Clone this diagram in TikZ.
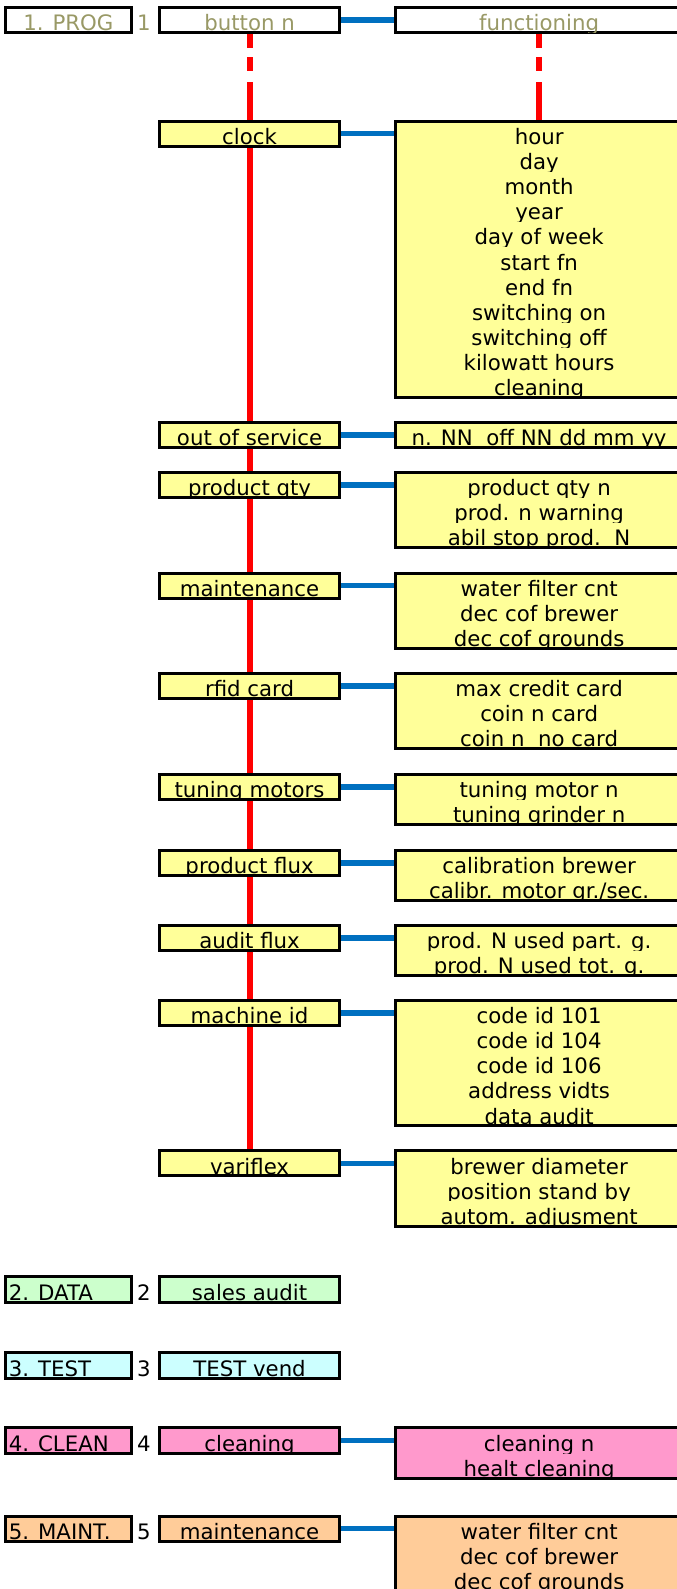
\documentclass[tikz,border=0pt]{standalone}
\usepackage{fontspec}
\setmainfont{DejaVu Sans}
\usetikzlibrary{calc,backgrounds}
\definecolor{mnyel}{RGB}{255,255,153}
\definecolor{mngrn}{RGB}{204,255,204}
\definecolor{mncyan}{RGB}{204,255,255}
\definecolor{mnpink}{RGB}{255,153,204}
\definecolor{mnorg}{RGB}{255,204,153}
\definecolor{mnolive}{RGB}{153,153,102}
\definecolor{mnblue}{RGB}{0,112,192}
\definecolor{mnred}{RGB}{255,0,0}
\newcommand\rowh{24.8}
% one clipped line of text per row of a box
\newcommand\celltext[4][]{%
  \foreach \txtline [count=\k] in {#4}{%
    \begin{scope}
      \clip ($(#2.north west)+(0,\k*\rowh-\rowh)$) rectangle ($(#2.north east)+(0,\k*\rowh)$);
      \node[txt,#1] (#2-\k) at ($(#2.#3)+(0,\k*\rowh-1.8)$) {\txtline};
    \end{scope}}}
\tikzset{
  cell/.style={
    draw=black, line width=3pt, rectangle, inner sep=0pt, outer sep=0pt,
    anchor=north west, minimum height=\rowh pt
  },
  rows/.style={minimum height={#1*\rowh*1pt}},
  catbox/.style={cell, minimum width=124pt},
  keybox/.style={cell, minimum width=177.5pt},
  detbox/.style={cell, minimum width=284pt},
  yel/.style={fill=mnyel},
  grn/.style={fill=mngrn},
  cyn/.style={fill=mncyan},
  pnk/.style={fill=mnpink},
  org/.style={fill=mnorg},
  txt/.style={font=\fontsize{21}{25}\selectfont, inner sep=0pt, anchor=base},
  lnk/.style={draw=mnblue, line width=5.5pt},
  thread/.style={draw=mnred, line width=6pt},
  dthread/.style={thread, dash pattern=on 15pt off 9pt on 14pt off 11pt on 60pt}
}
\begin{document}
\begin{tikzpicture}[x=1pt, y=-1pt]
  \useasboundingbox (0,0) rectangle (668,1568);
  % 1. PROG
  \node[catbox, fill=white] (prog) at (5.5,7.5) {};
  \node[txt, text=mnolive] (num1) at (142,30.5) {1};
  \node[keybox, fill=white] (button) at (157.5,7.5) {};
  \node[detbox, fill=white] (func) at ([xshift=55pt]button.north east) {};
  \node[keybox, yel] (clock) at (157.5,119.5) {};
  \node[detbox, yel, rows=11] (clockd) at ([xshift=55pt]clock.north east) {};
  \node[keybox, yel] (oos) at (157.5,417) {};
  \node[detbox, yel] (oosd) at ([xshift=55pt]oos.north east) {};
  \node[keybox, yel] (pqty) at (157.5,466) {};
  \node[detbox, yel, rows=3] (pqtyd) at ([xshift=55pt]pqty.north east) {};
  \node[keybox, yel] (maint) at (157.5,565.5) {};
  \node[detbox, yel, rows=3] (maintd) at ([xshift=55pt]maint.north east) {};
  \node[keybox, yel] (rfid) at (157.5,664.5) {};
  \node[detbox, yel, rows=3] (rfidd) at ([xshift=55pt]rfid.north east) {};
  \node[keybox, yel] (tune) at (157.5,764) {};
  \node[detbox, yel, rows=2] (tuned) at ([xshift=55pt]tune.north east) {};
  \node[keybox, yel] (pflux) at (157.5,839) {};
  \node[detbox, yel, rows=2] (pfluxd) at ([xshift=55pt]pflux.north east) {};
  \node[keybox, yel] (aflux) at (157.5,913) {};
  \node[detbox, yel, rows=2] (afluxd) at ([xshift=55pt]aflux.north east) {};
  \node[keybox, yel] (mid) at (157.5,987) {};
  \node[detbox, yel, rows=5] (midd) at ([xshift=55pt]mid.north east) {};
  \node[keybox, yel] (vflex) at (157.5,1135.5) {};
  \node[detbox, yel, rows=3] (vflexd) at ([xshift=55pt]vflex.north east) {};
  % 2. to 5.
  \node[catbox, grn] (data) at (5.5,1260) {};
  \node[txt] (num2) at (142,1283) {2};
  \node[keybox, grn] (sales) at (157.5,1260) {};
  \node[catbox, cyn] (test) at (5.5,1335) {};
  \node[txt] (num3) at (142,1358) {3};
  \node[keybox, cyn] (vend) at (157.5,1335) {};
  \node[catbox, pnk] (clean) at (5.5,1409) {};
  \node[txt] (num4) at (142,1432) {4};
  \node[keybox, pnk] (wash) at (157.5,1409) {};
  \node[detbox, pnk, rows=2] (washd) at ([xshift=55pt]wash.north east) {};
  \node[catbox, org] (mnt) at (5.5,1496) {};
  \node[txt] (num5) at (142,1519) {5};
  \node[keybox, org] (mntk) at (157.5,1496) {};
  \node[detbox, org, rows=3] (mntd) at ([xshift=55pt]mntk.north east) {};

  \celltext[text=mnolive]{prog}{north}{1. PROG}
  \celltext[text=mnolive]{button}{north}{button n}
  \celltext[text=mnolive]{func}{north}{functioning}
  \celltext{clock}{north}{clock}
  \celltext{clockd}{north}{hour,day,month,year,day of week,start fn,end fn,switching on,switching off,kilowatt hours,cleaning}
  \celltext{oos}{north}{out of service}
  \celltext{oosd}{north}{n. NN\ \ off NN dd mm yy}
  \celltext{pqty}{north}{product qty}
  \celltext{pqtyd}{north}{product qty n,prod. n warning,abil stop prod.\ \ N}
  \celltext{maint}{north}{maintenance}
  \celltext{maintd}{north}{water filter cnt,dec cof brewer,dec cof grounds}
  \celltext{rfid}{north}{rfid card}
  \celltext{rfidd}{north}{max credit card,coin n card,coin n\ \ no card}
  \celltext{tune}{north}{tuning motors}
  \celltext{tuned}{north}{tuning motor n,tuning grinder n}
  \celltext{pflux}{north}{product flux}
  \celltext{pfluxd}{north}{calibration brewer,calibr. motor gr./sec.}
  \celltext{aflux}{north}{audit flux}
  \celltext{afluxd}{north}{prod. N used part. g.,prod. N used tot. g.}
  \celltext{mid}{north}{machine id}
  \celltext{midd}{north}{code id 101,code id 104,code id 106,address vidts,data audit}
  \celltext{vflex}{north}{variflex}
  \celltext{vflexd}{north}{brewer diameter,position stand by,autom. adjusment}
  \celltext[anchor=base west, xshift=3pt]{data}{north west}{2. DATA}
  \celltext{sales}{north}{sales audit}
  \celltext[anchor=base west, xshift=3pt]{test}{north west}{3. TEST}
  \celltext{vend}{north}{TEST vend}
  \celltext[anchor=base west, xshift=3pt]{clean}{north west}{4. CLEAN}
  \celltext{wash}{north}{cleaning}
  \celltext{washd}{north}{cleaning n,healt cleaning}
  \celltext[anchor=base west, xshift=3pt]{mnt}{north west}{5. MAINT.}
  \celltext{mntk}{north}{maintenance}
  \celltext{mntd}{north}{water filter cnt,dec cof brewer,dec cof grounds}

  \begin{scope}[on background layer]
    \fill[white] (0,0) rectangle (668,1568);
    \draw[dthread] (button.south) -- (clock.north);
    \draw[dthread] (func.south) -- (clockd.north);
    \draw[thread] (clock.south) -- (vflex.north);
    \foreach \a/\b in {button/func, clock/clockd, oos/oosd, pqty/pqtyd, maint/maintd,
      rfid/rfidd, tune/tuned, pflux/pfluxd, aflux/afluxd, mid/midd, vflex/vflexd,
      wash/washd, mntk/mntd}
      \draw[lnk] (\a.east) -- (\a.east -| \b.west);
  \end{scope}
\end{tikzpicture}
\end{document}
